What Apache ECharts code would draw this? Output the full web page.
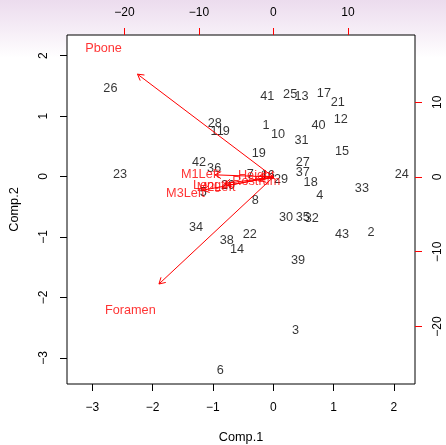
<!DOCTYPE html>
<html>
<head>
<meta charset="utf-8">
<script src="https://cdn.jsdelivr.net/npm/echarts@6/dist/echarts.min.js"></script>
<style>
html,body{margin:0;padding:0;}
#c{width:446px;height:445px;}
</style>
</head>
<body>
<div id="c"></div>
<script>
// Observation scores (Comp.1, Comp.2)
const obsLabels = ['1','2','3','4','5','6','7','8','9','10','11','12','13','14','15','16','17','18','19','20','21','22','23','24','25','26','27','28','29','30','31','32','33','34','35','36','37','38','39','40','41','42','43'];
const obsComp1 = [-0.12, 1.62, 0.37, 0.77, -1.16, -0.88, -0.38, -0.30, -0.78, 0.08, -0.93, 1.12, 0.47, -0.60, 1.14, -0.09, 0.84, 0.62, -0.24, -0.75, 1.07, -0.39, -2.54, 2.13, 0.28, -2.70, 0.49, -0.97, 0.13, 0.21, 0.47, 0.64, 1.47, -1.28, 0.49, -0.98, 0.49, -0.77, 0.41, 0.75, -0.10, -1.23, 1.14];
const obsComp2 = [0.85, -0.92, -2.54, -0.32, -0.27, -3.21, 0.03, -0.39, 0.74, 0.69, 0.74, 0.94, 1.32, -1.21, 0.41, 0.01, 1.38, -0.10, 0.38, -0.14, 1.22, -0.96, 0.04, 0.03, 1.35, 1.46, 0.23, 0.87, -0.05, -0.67, 0.59, -0.70, -0.19, -0.85, -0.67, 0.14, 0.06, -1.05, -1.38, 0.85, 1.32, 0.24, -0.96];

// Variable loadings (label positions, top/right scale)
const varNames = ['Pbone', 'Foramen', 'M1Left', 'M3Left', 'Length', 'M2Left', 'Height', 'Rostrum'];
const varX = [-22.8, -19.2, -9.8, -11.8, -8.2, -7.7, -2.3, -2.3];
const varY = [17.2, -17.9, 0.36, -2.2, -1.1, -1.4, 0.23, -0.58];

// Tick labels
const mainTicks = [-3, -2, -1, 0, 1, 2];
const loadTicks = [-20, -10, 0, 10];

const FONT = 'Liberation Sans, Arial, Helvetica, sans-serif';
const FS = 12.7;
const chart = echarts.init(document.getElementById('c'), null, {renderer: 'canvas'});

const obsData = obsLabels.map((n, i) => ({name: n, value: [obsComp1[i], obsComp2[i]]}));
const varLabelData = varNames.map((n, i) => ({name: n, value: [varX[i], varY[i]]}));
const arrowData = varNames.map((n, i) => ({name: n, value: [varX[i] * 0.8, varY[i] * 0.8]}));

const minus = v => String(v).replace('-', '\u2212');
const axisCommon = {
  type: 'value',
  splitLine: {show: false},
  axisLine: {show: false, onZero: false},
  nameTextStyle: {color: '#000', fontSize: FS, fontFamily: FONT}
};
const lab = extra => Object.assign({color: '#000', fontSize: 12, fontFamily: FONT, formatter: minus}, extra);

chart.setOption({
  animation: false,
  backgroundColor: {
    type: 'linear', x: 0, y: 0, x2: 0, y2: 1,
    colorStops: [
      {offset: 0, color: '#ecdcee'},
      {offset: 0.07, color: '#f6eef7'},
      {offset: 0.13, color: '#ffffff'},
      {offset: 1, color: '#ffffff'}
    ]
  },
  grid: {
    left: 67, top: 35, width: 348, height: 349,
    show: true, borderColor: '#000', borderWidth: 1, backgroundColor: '#fff',
    containLabel: false, outerBoundsMode: 'none'
  },
  xAxis: [
    Object.assign({}, axisCommon, {
      position: 'bottom', min: -3.42, max: 2.35,
      name: 'Comp.1', nameLocation: 'middle', nameGap: 47,
      axisTick: {show: true, inside: false, length: 7, lineStyle: {color: '#000'}, customValues: mainTicks},
      axisLabel: lab({customValues: mainTicks, margin: 18})
    }),
    Object.assign({}, axisCommon, {
      position: 'top', min: -27.7, max: 19.0,
      axisTick: {show: true, inside: false, length: 7, lineStyle: {color: '#ff0000'}, customValues: loadTicks},
      axisLabel: lab({customValues: loadTicks, margin: 16})
    })
  ],
  yAxis: [
    Object.assign({}, axisCommon, {
      position: 'left', min: -3.43, max: 2.34,
      name: 'Comp.2', nameLocation: 'middle', nameGap: 46, nameRotate: 90,
      axisTick: {show: true, inside: false, length: 7, lineStyle: {color: '#000'}, customValues: mainTicks},
      axisLabel: lab({customValues: mainTicks, rotate: 90, margin: 17})
    }),
    Object.assign({}, axisCommon, {
      position: 'right', min: -27.7, max: 19.0,
      axisTick: {show: true, inside: false, length: 7, lineStyle: {color: '#ff0000'}, customValues: loadTicks},
      axisLabel: lab({customValues: loadTicks, rotate: 90, margin: 17})
    })
  ],
  series: [
    {
      type: 'scatter', xAxisIndex: 0, yAxisIndex: 0,
      symbolSize: 1, itemStyle: {color: 'rgba(0,0,0,0)'},
      data: obsData,
      label: {show: true, position: 'inside', formatter: p => p.name, color: '#000', fontSize: FS, fontFamily: FONT},
      z: 3
    },
    {
      type: 'custom', xAxisIndex: 1, yAxisIndex: 1,
      data: arrowData,
      renderItem: function (params, api) {
        const p0 = api.coord([0, 0]);
        const p1 = api.coord([api.value(0), api.value(1)]);
        const ang = Math.atan2(p1[1] - p0[1], p1[0] - p0[0]);
        const L = 7, a = Math.PI / 6;
        const h1 = [p1[0] - L * Math.cos(ang - a), p1[1] - L * Math.sin(ang - a)];
        const h2 = [p1[0] - L * Math.cos(ang + a), p1[1] - L * Math.sin(ang + a)];
        return {
          type: 'group',
          children: [
            {type: 'line', shape: {x1: p0[0], y1: p0[1], x2: p1[0], y2: p1[1]}, style: {stroke: '#ff0000', lineWidth: 1}},
            {type: 'polyline', shape: {points: [h1, p1, h2]}, style: {stroke: '#ff0000', lineWidth: 1, fill: null}}
          ]
        };
      },
      z: 4
    },
    {
      type: 'scatter', xAxisIndex: 1, yAxisIndex: 1,
      symbolSize: 1, itemStyle: {color: 'rgba(0,0,0,0)'},
      data: varLabelData,
      label: {show: true, position: 'inside', formatter: p => p.name, color: '#ff0000', fontSize: FS, fontFamily: FONT},
      z: 5
    }
  ]
});
</script>
</body>
</html>
